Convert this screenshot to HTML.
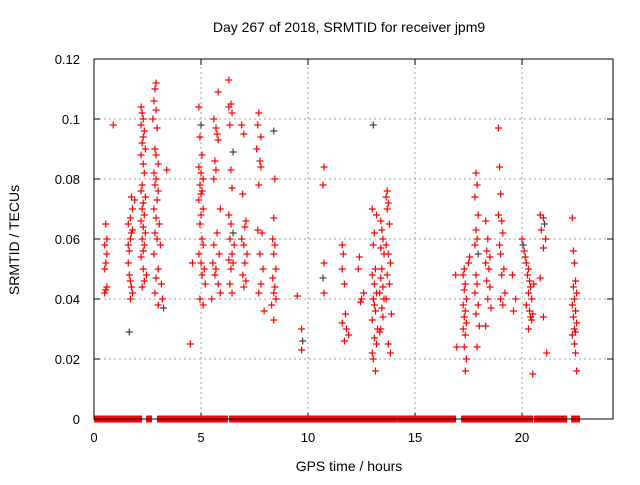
<!DOCTYPE html>
<html><head><meta charset="utf-8"><style>
html,body{margin:0;padding:0;background:#fff}
svg text{font-family:"Liberation Sans",Arial,sans-serif;fill:#000}
</style></head><body>
<svg id="chart" width="640" height="480" viewBox="0 0 640 480" xmlns="http://www.w3.org/2000/svg">
<rect width="640" height="480" fill="#fff"/>
<text x="349" y="32" font-size="14" text-anchor="middle">Day 267 of 2018, SRMTID for receiver jpm9</text>
<text x="0" y="0" font-size="14" text-anchor="middle" transform="translate(19,240) rotate(-90)">SRMTID / TECUs</text>
<text x="349" y="471" font-size="14" text-anchor="middle">GPS time / hours</text>
<g id="grid"></g>
<g id="zero"></g>
<g id="pts"></g>
<rect x="94" y="59" width="519" height="360" fill="none" stroke="#000" stroke-width="1"/>
</svg>
<script>
const xTicks=[0,5,10,15,20];
const yTicks=[0,0.02,0.04,0.06,0.08,0.1,0.12];
const yTickLabels=["0","0.02","0.04","0.06","0.08","0.1","0.12"];
// zero-value ranges (hours)
const zeroRanges=[[0.05,2.2],[2.48,2.66],[2.99,4.49],[4.58,4.77],[4.81,4.95],[5.0,5.7],[5.75,5.84],[5.89,6.21],[6.36,7.48],[7.57,8.08],[8.13,8.32],[8.36,11.31],[11.36,13.08],[13.13,13.27],[13.32,14.11],[14.21,16.21],[16.26,16.87],[17.2,17.52],[17.57,17.6],[17.66,18.74],[18.79,19.77],[19.81,20.05],[20.1,20.15],[20.23,20.47],[20.61,20.98],[21.07,22.06],[22.34,22.66]];
const hours=[0.55,0.6,0.5,0.6,0.55,0.5,0.6,0.5,0.55,0.9,
1.6,1.65,1.7,1.75,1.8,1.6,1.65,1.7,1.75,1.8,1.7,1.65,1.75,1.8,1.7,1.9,1.6,
2.2,2.25,2.3,2.2,2.35,2.3,2.25,2.4,2.2,2.3,2.35,2.25,2.2,2.4,2.3,2.25,2.35,2.2,2.3,2.4,2.25,2.35,2.3,2.2,2.3,2.45,2.35,2.25,
2.9,2.85,2.8,2.9,2.75,2.95,2.85,2.9,3.0,2.8,2.9,2.85,3.0,2.95,2.8,2.9,3.05,2.85,2.95,3.1,2.8,3.0,2.9,3.15,2.85,3.2,3.0,3.25,3.4,
4.5,4.6,
4.9,5.0,4.95,5.05,4.9,5.0,5.1,4.95,5.05,5.0,4.9,5.1,5.0,4.95,5.05,5.1,4.9,5.0,5.15,5.05,5.2,4.95,5.1,
5.8,5.6,5.7,5.75,5.8,5.65,5.7,5.6,5.9,5.75,5.6,5.85,5.7,5.65,5.8,5.9,5.5,5.55,
6.3,6.4,6.3,6.45,6.35,6.5,6.4,6.45,6.3,6.4,6.5,6.35,6.55,6.45,6.3,6.5,6.4,6.35,6.45,
6.9,7.0,6.95,7.1,7.05,6.9,7.0,7.15,7.05,6.95,7.1,7.0,
7.7,7.65,7.8,7.6,7.75,7.8,7.7,7.65,7.85,7.75,7.9,7.8,7.7,7.95,
8.4,8.45,8.4,8.35,8.45,8.4,8.5,8.35,8.45,8.4,8.5,8.3,8.4,
9.5,9.7,9.75,9.7,
10.75,10.7,10.75,10.7,10.75,
11.6,11.65,11.6,11.7,11.75,11.6,11.8,11.9,11.7,
12.4,12.35,12.5,12.45,12.6,
13.05,13.0,13.2,13.1,13.05,13.15,13.0,13.1,13.2,13.05,13.15,13.0,13.25,13.1,13.2,13.05,13.15,13.0,13.1,
13.4,13.45,13.5,13.4,13.55,13.45,13.4,13.5,13.35,13.55,13.45,13.5,13.4,13.35,
13.7,13.65,13.75,13.7,13.8,13.65,13.75,13.85,13.7,13.8,13.65,13.9,13.75,13.85,
16.9,16.95,
17.3,17.25,17.35,17.3,17.4,17.25,17.35,17.3,17.4,17.25,17.35,17.3,17.4,17.35,17.5,17.55,
17.85,17.9,17.8,17.95,17.85,17.9,17.8,17.95,17.85,17.9,17.8,17.95,17.85,18.0,17.9,
18.3,18.4,18.35,18.5,18.3,18.45,18.35,18.5,18.4,18.55,18.3,
18.9,18.95,19.0,18.9,19.05,19.1,18.95,19.0,19.15,19.05,19.2,19.0,19.1,
19.55,19.7,19.6,
20.0,20.05,20.1,20.15,20.2,20.3,20.25,20.35,20.4,20.3,20.45,20.2,20.35,20.5,20.4,20.45,20.3,20.5,20.55,
20.85,21.0,21.05,20.9,21.1,21.0,20.85,21.0,21.15,
22.35,22.4,22.45,22.5,22.4,22.55,22.45,22.35,22.5,22.4,22.55,22.45,22.5,22.35,22.45,22.5,22.55];
const tecu=[0.065,0.06,0.058,0.055,0.052,0.05,0.044,0.042,0.043,0.098,
0.058,0.056,0.06,0.062,0.063,0.052,0.048,0.046,0.044,0.042,0.04,0.029,0.074,0.07,0.067,0.073,0.065,
0.104,0.102,0.1,0.098,0.096,0.094,0.092,0.09,0.088,0.085,0.082,0.078,0.076,0.074,0.072,0.07,0.068,0.066,0.064,0.062,0.06,0.058,0.056,0.054,0.05,0.048,0.046,0.044,
0.112,0.11,0.106,0.103,0.1,0.097,0.09,0.088,0.085,0.082,0.08,0.078,0.076,0.073,0.07,0.067,0.065,0.062,0.06,0.058,0.055,0.05,0.047,0.045,0.042,0.04,0.038,0.037,0.083,
0.025,0.052,
0.104,0.098,0.094,0.088,0.084,0.082,0.08,0.078,0.076,0.075,0.073,0.07,0.068,0.065,0.06,0.058,0.055,0.052,0.05,0.048,0.045,0.04,0.038,
0.109,0.1,0.097,0.095,0.093,0.086,0.083,0.08,0.07,0.062,0.058,0.055,0.05,0.048,0.045,0.042,0.04,0.052,
0.113,0.105,0.104,0.102,0.098,0.089,0.083,0.077,0.068,0.065,0.062,0.06,0.058,0.055,0.053,0.052,0.05,0.045,0.042,
0.098,0.095,0.075,0.066,0.064,0.06,0.058,0.055,0.052,0.048,0.046,0.044,
0.102,0.098,0.094,0.09,0.086,0.084,0.078,0.063,0.062,0.055,0.05,0.045,0.042,0.036,
0.096,0.08,0.067,0.06,0.058,0.055,0.05,0.047,0.044,0.042,0.04,0.038,0.033,
0.041,0.03,0.026,0.023,
0.084,0.078,0.052,0.047,0.042,
0.058,0.055,0.05,0.045,0.035,0.032,0.03,0.028,0.026,
0.054,0.05,0.04,0.039,0.042,
0.098,0.07,0.068,0.062,0.058,0.05,0.048,0.045,0.042,0.04,0.036,0.033,0.03,0.027,0.025,0.02,0.016,0.022,0.038,
0.066,0.063,0.06,0.057,0.055,0.05,0.047,0.044,0.042,0.04,0.037,0.034,0.03,0.029,
0.076,0.074,0.072,0.07,0.065,0.058,0.055,0.052,0.048,0.045,0.04,0.035,0.025,0.022,
0.048,0.024,
0.05,0.048,0.045,0.043,0.04,0.038,0.036,0.034,0.032,0.03,0.028,0.024,0.02,0.016,0.052,0.054,
0.082,0.078,0.074,0.068,0.063,0.06,0.058,0.055,0.048,0.045,0.042,0.038,0.035,0.031,0.024,
0.066,0.06,0.056,0.054,0.052,0.05,0.046,0.044,0.04,0.037,0.031,
0.097,0.084,0.075,0.068,0.066,0.062,0.058,0.055,0.05,0.048,0.042,0.04,0.038,
0.048,0.04,0.036,
0.06,0.058,0.056,0.054,0.052,0.05,0.048,0.046,0.044,0.042,0.04,0.038,0.036,0.035,0.034,0.033,0.03,0.015,0.045,
0.068,0.067,0.065,0.063,0.06,0.057,0.047,0.034,0.022,
0.067,0.056,0.052,0.046,0.044,0.042,0.04,0.038,0.036,0.034,0.032,0.03,0.029,0.028,0.025,0.022,0.016];
const grayIdx=[21,82,87,132,137,172,187,192,208,280,316,336];

const X0=94,X1=613,Y0=419,Y1=59;
function xs(h){return X0+h*(X1-X0)/24.25;}
function ys(v){return Y0-v*(Y0-Y1)/0.12;}
const NS="http://www.w3.org/2000/svg";
function mk(tag,attrs,parent){const e=document.createElementNS(NS,tag);for(const k in attrs)e.setAttribute(k,attrs[k]);parent.appendChild(e);return e;}
const grid=document.getElementById('grid');
xTicks.forEach(t=>{
  const x=xs(t);
  if(t>0){const l=mk('line',{x1:x,y1:Y0,x2:x,y2:Y1,stroke:'#a0a0a0','stroke-dasharray':'2,3'},grid);
  
  }
  mk('line',{x1:x,y1:Y0,x2:x,y2:Y0-6,stroke:'#000'},grid);
  mk('line',{x1:x,y1:Y1,x2:x,y2:Y1+6,stroke:'#000'},grid);
  const tx=mk('text',{x:x,y:Y0+23,'font-size':'13','text-anchor':'middle'},grid);
  tx.textContent=String(t);
  
  
});
yTicks.forEach((t,i)=>{
  const y=ys(t);
  if(t>0){const l=mk('line',{x1:X0,y1:y,x2:X1,y2:y,stroke:'#a0a0a0','stroke-dasharray':'2,3'},grid);
  
  }
  mk('line',{x1:X0,y1:y,x2:X0+6,y2:y,stroke:'#000'},grid);
  mk('line',{x1:X1,y1:y,x2:X1-6,y2:y,stroke:'#000'},grid);
  const tx=mk('text',{x:X0-14,y:y+5,'font-size':'13','text-anchor':'end'},grid);
  tx.textContent=yTickLabels[i];
  
  
});
const zero=document.getElementById('zero');
zeroRanges.forEach(r=>{
  const a=xs(r[0])-1,b=xs(r[1])+1;
  const e=mk('rect',{x:a,y:ys(0)-3.5,width:Math.max(2,b-a),height:7,fill:'#ff0000'},zero);
  
  
});
const base=mk('line',{x1:X0,y1:Y0,x2:X1,y2:Y0,stroke:'#000','stroke-width':'1'},zero);


const pts=document.getElementById('pts');
hours.forEach((h,i)=>{
  const x=xs(h),y=ys(tecu[i]);
  const c=grayIdx.includes(i)?'#404040':'#ff0000';
  const p=mk('path',{d:`M${x-3.5},${y}H${x+3.5}M${x},${y-3.5}V${y+3.5}`,stroke:c,'stroke-width':'1.2',fill:'none'},pts);
  
  
});
</script>
</body></html>
